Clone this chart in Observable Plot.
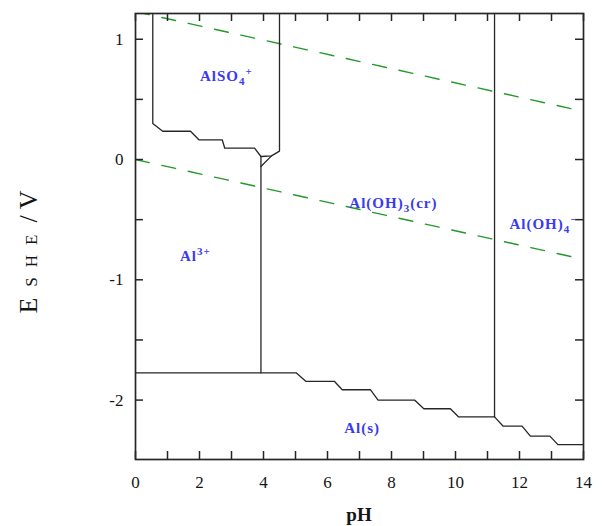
<!DOCTYPE html>
<html>
<head>
<meta charset="utf-8">
<script src="https://cdn.jsdelivr.net/npm/d3@7"></script>
<script src="https://cdn.jsdelivr.net/npm/@observablehq/plot@0.6"></script>
<style>
  body { margin: 0; background: #fff; }
  #chart svg { display: block; }
</style>
</head>
<body>
<div id="chart"></div>
<script>
// Pourbaix (E–pH) diagram of aluminium in sulfate solution, 25 °C

// Axis ticks
const pHTicks = [0, 1, 2, 3, 4, 5, 6, 7, 8, 9, 10, 11, 12, 13, 14];
const pHTickLabels = [0, 2, 4, 6, 8, 10, 12, 14];
const eTicks = [-2, -1.5, -1, -0.5, 0, 0.5, 1];
const eTickLabels = [-2, -1, 0, 1];

// AlSO4+ field boundary (left edge, stepped bottom, right edge)
const so4PH = [0.54, 0.54, 0.85, 1.72, 1.98, 2.71, 2.79, 3.72, 3.92, 4.25, 4.50, 4.50];
const so4E  = [1.30, 0.30, 0.235, 0.235, 0.164, 0.164, 0.094, 0.094, 0.025, 0.03, 0.07, 1.30];

// Small Al3+ / AlSO4+ / Al(OH)3 junction
const junctionPH = [4.25, 3.92];
const junctionE  = [0.03, -0.058];

// Al3+ / Al(OH)3(cr) boundary
const al3HydroxPH = [3.92, 3.92];
const al3HydroxE  = [0.025, -1.773];

// Al(OH)3(cr) / Al(OH)4- boundary
const hydroxAluminatePH = [11.22, 11.22];
const hydroxAluminateE  = [1.30, -2.14];

// Al(s) stability boundary
const metalPH = [0, 5.02, 5.33, 6.22, 6.46, 7.34, 7.58, 8.72, 9.01, 9.84, 10.10, 11.22, 11.49, 12.08, 12.34, 12.95, 13.20, 14];
const metalE  = [-1.773, -1.773, -1.845, -1.845, -1.914, -1.914, -2.0, -2.0, -2.072, -2.072, -2.14, -2.14, -2.217, -2.217, -2.30, -2.30, -2.37, -2.37];

// Water stability limits (O2/H2O and H+/H2)
const o2PH = [0, 14];
const o2E  = [1.23, 0.40];
const h2PH = [0, 14];
const h2E  = [0, -0.83];

// Species labels
const speciesText = ["AlSO_{4}^{+}", "Al^{3+}", "Al(OH)_{3}(cr)", "Al(OH)_{4}^{−}", "Al(s)"];
const speciesPH   = [2.84, 1.87, 8.06, 12.75, 7.08];
const speciesE    = [0.69, -0.80, -0.365, -0.54, -2.23];

const pts = (xs, ys) => xs.map((x, i) => ({pH: x, E: ys[i]}));
const labels = speciesText.map((t, i) => ({text: t, pH: speciesPH[i], E: speciesE[i]}));

const W = 602, H = 526;
const mL = 135, mR = 19, mT = 13, mB = 67;
const innerW = W - mL - mR, innerH = H - mT - mB;
const tickLen = 8;
const ink = "#262626";
const green = "#23992a";
const blue = "#3a3af2";
const serif = "'Liberation Serif', 'DejaVu Serif', serif";

const boundary = {x: "pH", y: "E", stroke: ink, strokeWidth: 1.3, clip: true};
const water = {x: "pH", y: "E", stroke: green, strokeWidth: 1.4, strokeDasharray: "14,13", clip: true};

const chart = Plot.plot({
  width: W,
  height: H,
  marginLeft: mL,
  marginRight: mR,
  marginTop: mT,
  marginBottom: mB,
  style: {fontFamily: serif, background: "#fff", color: "#151515"},
  x: {domain: [0, 14]},
  y: {domain: [-2.494, 1.214]},
  marks: [
    Plot.line(pts(o2PH, o2E), water),
    Plot.line(pts(h2PH, h2E), water),
    Plot.line(pts(so4PH, so4E), boundary),
    Plot.line(pts(junctionPH, junctionE), boundary),
    Plot.line(pts(al3HydroxPH, al3HydroxE), boundary),
    Plot.line(pts(hydroxAluminatePH, hydroxAluminateE), boundary),
    Plot.line(pts(metalPH, metalE), boundary),
    // inward ticks on all four sides
    Plot.tickY(eTicks, {y: d => d, insetRight: innerW - tickLen, stroke: ink, strokeWidth: 1.5}),
    Plot.tickY(eTicks, {y: d => d, insetLeft: innerW - tickLen, stroke: ink, strokeWidth: 1.5}),
    Plot.tickX(pHTicks, {x: d => d, insetTop: innerH - tickLen, stroke: ink, strokeWidth: 1.5}),
    Plot.tickX(pHTicks, {x: d => d, insetBottom: innerH - tickLen, stroke: ink, strokeWidth: 1.5}),
    Plot.axisX(pHTickLabels, {tickSize: 0, tickPadding: 16, fontSize: 17, fontFamily: serif, label: null, tickFormat: d => String(d)}),
    Plot.axisY(eTickLabels, {tickSize: 0, tickPadding: 12, fontSize: 17, fontFamily: serif, label: null, tickFormat: d => String(d)}),
    Plot.frame({stroke: ink, strokeWidth: 1.7}),
    Plot.text(labels, {x: "pH", y: "E", text: "text", fill: blue, fontSize: 15, fontWeight: "bold", fontFamily: serif})
  ]
});

const svg = d3.select(chart.tagName === "svg" ? chart : chart.querySelector("svg"));

// Turn _{..} and ^{..} markup into sub/superscript tspans
svg.selectAll('g[aria-label="text"] text').each(function () {
  const el = d3.select(this);
  const src = this.textContent;
  el.text(null).attr("letter-spacing", 1);
  const re = /([_^])\{([^}]*)\}/g;
  let last = 0, m, shift = 0;
  const add = (txt, target) => {
    if (!txt) return;
    const t = el.append("tspan").text(txt).attr("dy", target - shift);
    if (target !== 0) t.attr("font-size", 11);
    shift = target;
  };
  while ((m = re.exec(src))) {
    add(src.slice(last, m.index), 0);
    add(m[2], m[1] === "_" ? 4 : -6);
    last = re.lastIndex;
  }
  add(src.slice(last), 0);
});

// Axis titles
svg.append("text")
  .attr("x", 359)
  .attr("y", 521)
  .attr("text-anchor", "middle")
  .attr("font-family", serif)
  .attr("font-size", 19)
  .attr("font-weight", "bold")
  .attr("fill", "#151515")
  .text("pH");

const yTitle = svg.append("text")
  .attr("transform", "translate(37,252) rotate(-90)")
  .attr("text-anchor", "middle")
  .attr("font-family", serif)
  .attr("fill", "#151515");
yTitle.append("tspan").attr("font-size", 26).text("E");
yTitle.append("tspan").attr("font-size", 17).attr("dx", 11).attr("letter-spacing", 10).text("SHE");
yTitle.append("tspan").attr("font-size", 26).attr("dx", 2).text("/ V");

document.getElementById("chart").appendChild(chart);
</script>
</body>
</html>
